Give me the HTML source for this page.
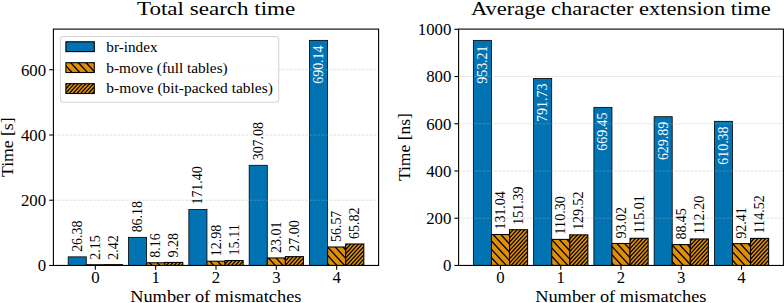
<!DOCTYPE html>
<html><head><meta charset="utf-8"><title>chart</title>
<style>
html,body{margin:0;padding:0;background:#fff;}
body{width:784px;height:303px;overflow:hidden;}
svg{display:block;}
text{font-family:"Liberation Serif",serif;}
</style></head><body>
<svg width="784" height="303" viewBox="0 0 784 303">
<rect width="784" height="303" fill="#fff"/>
<rect x="68.18" y="256.85" width="18.10" height="8.60" fill="#0173B2" stroke="#000" stroke-width="0.8"/>
<rect x="128.52" y="237.34" width="18.10" height="28.11" fill="#0173B2" stroke="#000" stroke-width="0.8"/>
<rect x="188.85" y="209.55" width="18.10" height="55.90" fill="#0173B2" stroke="#000" stroke-width="0.8"/>
<rect x="249.18" y="165.29" width="18.10" height="100.16" fill="#0173B2" stroke="#000" stroke-width="0.8"/>
<rect x="309.52" y="40.35" width="18.10" height="225.10" fill="#0173B2" stroke="#000" stroke-width="0.8"/>
<clipPath id="c1"><rect x="86.28" y="264.75" width="18.10" height="0.70"/></clipPath>
<rect x="86.28" y="264.75" width="18.10" height="0.70" fill="#DE8F05"/>
<path clip-path="url(#c1)" d="M88.94,263.75L91.44,266.45M96.64,263.75L99.14,266.45M104.34,263.75L106.84,266.45" stroke="#000" stroke-width="1.30" fill="none"/>
<rect x="86.28" y="264.75" width="18.10" height="0.70" fill="none" stroke="#000" stroke-width="1.05"/>
<clipPath id="c2"><rect x="146.62" y="262.79" width="18.10" height="2.66"/></clipPath>
<rect x="146.62" y="262.79" width="18.10" height="2.66" fill="#DE8F05"/>
<path clip-path="url(#c2)" d="M148.73,261.79L153.04,266.45M156.43,261.79L160.74,266.45M164.13,261.79L168.44,266.45" stroke="#000" stroke-width="1.30" fill="none"/>
<rect x="146.62" y="262.79" width="18.10" height="2.66" fill="none" stroke="#000" stroke-width="1.05"/>
<clipPath id="c3"><rect x="206.95" y="261.22" width="18.10" height="4.23"/></clipPath>
<rect x="206.95" y="261.22" width="18.10" height="4.23" fill="#DE8F05"/>
<path clip-path="url(#c3)" d="M201.18,260.22L206.94,266.45M208.88,260.22L214.64,266.45M216.58,260.22L222.34,266.45M224.28,260.22L230.04,266.45" stroke="#000" stroke-width="1.30" fill="none"/>
<rect x="206.95" y="261.22" width="18.10" height="4.23" fill="none" stroke="#000" stroke-width="1.05"/>
<clipPath id="c4"><rect x="267.28" y="257.95" width="18.10" height="7.50"/></clipPath>
<rect x="267.28" y="257.95" width="18.10" height="7.50" fill="#DE8F05"/>
<path clip-path="url(#c4)" d="M259.76,256.95L268.54,266.45M267.46,256.95L276.24,266.45M275.16,256.95L283.94,266.45M282.86,256.95L291.64,266.45" stroke="#000" stroke-width="1.30" fill="none"/>
<rect x="267.28" y="257.95" width="18.10" height="7.50" fill="none" stroke="#000" stroke-width="1.05"/>
<clipPath id="c5"><rect x="327.62" y="247.00" width="18.10" height="18.45"/></clipPath>
<rect x="327.62" y="247.00" width="18.10" height="18.45" fill="#DE8F05"/>
<path clip-path="url(#c5)" d="M311.24,246.00L330.14,266.45M318.94,246.00L337.84,266.45M326.64,246.00L345.54,266.45M334.34,246.00L353.24,266.45M342.04,246.00L360.94,266.45" stroke="#000" stroke-width="1.30" fill="none"/>
<rect x="327.62" y="247.00" width="18.10" height="18.45" fill="none" stroke="#000" stroke-width="1.05"/>
<clipPath id="c6"><rect x="104.38" y="264.66" width="18.10" height="0.79"/></clipPath>
<rect x="104.38" y="264.66" width="18.10" height="0.79" fill="#DE8F05"/>
<path clip-path="url(#c6)" d="M106.75,263.66L104.19,266.45M110.58,263.66L108.02,266.45M114.41,263.66L111.85,266.45M118.24,263.66L115.68,266.45M122.07,263.66L119.51,266.45M125.90,263.66L123.34,266.45" stroke="#000" stroke-width="1.25" fill="none"/>
<rect x="104.38" y="264.66" width="18.10" height="0.79" fill="none" stroke="#000" stroke-width="1.05"/>
<clipPath id="c7"><rect x="164.72" y="262.42" width="18.10" height="3.03"/></clipPath>
<rect x="164.72" y="262.42" width="18.10" height="3.03" fill="#DE8F05"/>
<path clip-path="url(#c7)" d="M166.26,261.42L161.64,266.45M170.09,261.42L165.47,266.45M173.92,261.42L169.30,266.45M177.75,261.42L173.13,266.45M181.58,261.42L176.96,266.45M185.41,261.42L180.79,266.45" stroke="#000" stroke-width="1.25" fill="none"/>
<rect x="164.72" y="262.42" width="18.10" height="3.03" fill="none" stroke="#000" stroke-width="1.05"/>
<clipPath id="c8"><rect x="225.05" y="260.52" width="18.10" height="4.93"/></clipPath>
<rect x="225.05" y="260.52" width="18.10" height="4.93" fill="#DE8F05"/>
<path clip-path="url(#c8)" d="M225.45,259.52L219.09,266.45M229.28,259.52L222.92,266.45M233.11,259.52L226.75,266.45M236.94,259.52L230.58,266.45M240.77,259.52L234.41,266.45M244.60,259.52L238.24,266.45M248.43,259.52L242.07,266.45" stroke="#000" stroke-width="1.25" fill="none"/>
<rect x="225.05" y="260.52" width="18.10" height="4.93" fill="none" stroke="#000" stroke-width="1.05"/>
<clipPath id="c9"><rect x="285.38" y="256.64" width="18.10" height="8.81"/></clipPath>
<rect x="285.38" y="256.64" width="18.10" height="8.81" fill="#DE8F05"/>
<path clip-path="url(#c9)" d="M286.47,255.64L276.54,266.45M290.30,255.64L280.37,266.45M294.13,255.64L284.20,266.45M297.96,255.64L288.03,266.45M301.79,255.64L291.86,266.45M305.62,255.64L295.69,266.45M309.45,255.64L299.52,266.45M313.28,255.64L303.35,266.45" stroke="#000" stroke-width="1.25" fill="none"/>
<rect x="285.38" y="256.64" width="18.10" height="8.81" fill="none" stroke="#000" stroke-width="1.05"/>
<clipPath id="c10"><rect x="345.72" y="243.98" width="18.10" height="21.47"/></clipPath>
<rect x="345.72" y="243.98" width="18.10" height="21.47" fill="#DE8F05"/>
<path clip-path="url(#c10)" d="M347.90,242.98L326.33,266.45M351.73,242.98L330.16,266.45M355.56,242.98L333.99,266.45M359.39,242.98L337.82,266.45M363.22,242.98L341.65,266.45M367.05,242.98L345.48,266.45M370.88,242.98L349.31,266.45M374.71,242.98L353.14,266.45M378.54,242.98L356.97,266.45M382.37,242.98L360.80,266.45M386.20,242.98L364.63,266.45" stroke="#000" stroke-width="1.25" fill="none"/>
<rect x="345.72" y="243.98" width="18.10" height="21.47" fill="none" stroke="#000" stroke-width="1.05"/>
<line x1="53.40" x2="378.60" y1="200.22" y2="200.22" stroke="#b0b0b0" stroke-opacity="0.38" stroke-width="1.0" stroke-dasharray="2.8,1.2"/>
<line x1="53.40" x2="378.60" y1="134.99" y2="134.99" stroke="#b0b0b0" stroke-opacity="0.38" stroke-width="1.0" stroke-dasharray="2.8,1.2"/>
<line x1="53.40" x2="378.60" y1="69.75" y2="69.75" stroke="#b0b0b0" stroke-opacity="0.38" stroke-width="1.0" stroke-dasharray="2.8,1.2"/>
<text transform="translate(81.73,251.85) rotate(-90)" font-size="14.50" fill="#000" textLength="31.32" lengthAdjust="spacingAndGlyphs">26.38</text>
<text transform="translate(142.07,232.34) rotate(-90)" font-size="14.50" fill="#000" textLength="31.32" lengthAdjust="spacingAndGlyphs">86.18</text>
<text transform="translate(202.40,204.55) rotate(-90)" font-size="14.50" fill="#000" textLength="38.20" lengthAdjust="spacingAndGlyphs">171.40</text>
<text transform="translate(262.73,160.29) rotate(-90)" font-size="14.50" fill="#000" textLength="38.20" lengthAdjust="spacingAndGlyphs">307.08</text>
<text transform="translate(323.07,45.55) rotate(-90)" font-size="14.50" fill="#fff" text-anchor="end" textLength="38.20" lengthAdjust="spacingAndGlyphs">690.14</text>
<text transform="translate(99.83,259.75) rotate(-90)" font-size="14.50" fill="#000" textLength="24.45" lengthAdjust="spacingAndGlyphs">2.15</text>
<text transform="translate(160.17,257.79) rotate(-90)" font-size="14.50" fill="#000" textLength="24.45" lengthAdjust="spacingAndGlyphs">8.16</text>
<text transform="translate(220.50,256.22) rotate(-90)" font-size="14.50" fill="#000" textLength="31.32" lengthAdjust="spacingAndGlyphs">12.98</text>
<text transform="translate(280.83,252.95) rotate(-90)" font-size="14.50" fill="#000" textLength="31.32" lengthAdjust="spacingAndGlyphs">23.01</text>
<text transform="translate(341.17,242.00) rotate(-90)" font-size="14.50" fill="#000" textLength="31.32" lengthAdjust="spacingAndGlyphs">56.57</text>
<text transform="translate(117.93,259.66) rotate(-90)" font-size="14.50" fill="#000" textLength="24.45" lengthAdjust="spacingAndGlyphs">2.42</text>
<text transform="translate(178.27,257.42) rotate(-90)" font-size="14.50" fill="#000" textLength="24.45" lengthAdjust="spacingAndGlyphs">9.28</text>
<text transform="translate(238.60,255.52) rotate(-90)" font-size="14.50" fill="#000" textLength="31.32" lengthAdjust="spacingAndGlyphs">15.11</text>
<text transform="translate(298.93,251.64) rotate(-90)" font-size="14.50" fill="#000" textLength="31.32" lengthAdjust="spacingAndGlyphs">27.00</text>
<text transform="translate(359.27,238.98) rotate(-90)" font-size="14.50" fill="#000" textLength="31.32" lengthAdjust="spacingAndGlyphs">65.82</text>
<rect x="53.40" y="29.10" width="325.20" height="236.35" fill="none" stroke="#000" stroke-width="1.1"/>
<line x1="49.20" x2="53.40" y1="265.45" y2="265.45" stroke="#000" stroke-width="1.1"/>
<text x="46.10" y="271.25" font-size="16.80" fill="#000" text-anchor="end">0</text>
<line x1="49.20" x2="53.40" y1="200.22" y2="200.22" stroke="#000" stroke-width="1.1"/>
<text x="46.10" y="206.02" font-size="16.80" fill="#000" text-anchor="end">200</text>
<line x1="49.20" x2="53.40" y1="134.99" y2="134.99" stroke="#000" stroke-width="1.1"/>
<text x="46.10" y="140.79" font-size="16.80" fill="#000" text-anchor="end">400</text>
<line x1="49.20" x2="53.40" y1="69.75" y2="69.75" stroke="#000" stroke-width="1.1"/>
<text x="46.10" y="75.55" font-size="16.80" fill="#000" text-anchor="end">600</text>
<line x1="95.33" x2="95.33" y1="265.45" y2="269.65" stroke="#000" stroke-width="1.1"/>
<text x="95.33" y="282.80" font-size="16.80" fill="#000" text-anchor="middle">0</text>
<line x1="155.67" x2="155.67" y1="265.45" y2="269.65" stroke="#000" stroke-width="1.1"/>
<text x="155.67" y="282.80" font-size="16.80" fill="#000" text-anchor="middle">1</text>
<line x1="216.00" x2="216.00" y1="265.45" y2="269.65" stroke="#000" stroke-width="1.1"/>
<text x="216.00" y="282.80" font-size="16.80" fill="#000" text-anchor="middle">2</text>
<line x1="276.33" x2="276.33" y1="265.45" y2="269.65" stroke="#000" stroke-width="1.1"/>
<text x="276.33" y="282.80" font-size="16.80" fill="#000" text-anchor="middle">3</text>
<line x1="336.67" x2="336.67" y1="265.45" y2="269.65" stroke="#000" stroke-width="1.1"/>
<text x="336.67" y="282.80" font-size="16.80" fill="#000" text-anchor="middle">4</text>
<text x="137.00" y="14.80" font-size="19.60" fill="#000" textLength="158.20" lengthAdjust="spacingAndGlyphs">Total search time</text>
<text x="130.20" y="302.00" font-size="16.80" fill="#000" textLength="171.30" lengthAdjust="spacingAndGlyphs">Number of mismatches</text>
<text transform="translate(12.60,177.00) rotate(-90)" font-size="16.80" fill="#000" textLength="59.60" lengthAdjust="spacingAndGlyphs">Time [s]</text>
<rect x="473.36" y="40.35" width="18.08" height="225.10" fill="#0173B2" stroke="#000" stroke-width="0.8"/>
<rect x="533.62" y="78.49" width="18.08" height="186.96" fill="#0173B2" stroke="#000" stroke-width="0.8"/>
<rect x="593.88" y="107.36" width="18.08" height="158.09" fill="#0173B2" stroke="#000" stroke-width="0.8"/>
<rect x="654.14" y="116.70" width="18.08" height="148.75" fill="#0173B2" stroke="#000" stroke-width="0.8"/>
<rect x="714.40" y="121.31" width="18.08" height="144.14" fill="#0173B2" stroke="#000" stroke-width="0.8"/>
<clipPath id="c11"><rect x="491.44" y="234.51" width="18.08" height="30.94"/></clipPath>
<rect x="491.44" y="234.51" width="18.08" height="30.94" fill="#DE8F05"/>
<path clip-path="url(#c11)" d="M461.40,233.51L491.84,266.45M469.10,233.51L499.54,266.45M476.80,233.51L507.24,266.45M484.50,233.51L514.94,266.45M492.20,233.51L522.64,266.45M499.90,233.51L530.34,266.45M507.60,233.51L538.04,266.45" stroke="#000" stroke-width="1.30" fill="none"/>
<rect x="491.44" y="234.51" width="18.08" height="30.94" fill="none" stroke="#000" stroke-width="1.05"/>
<clipPath id="c12"><rect x="551.70" y="239.40" width="18.08" height="26.05"/></clipPath>
<rect x="551.70" y="239.40" width="18.08" height="26.05" fill="#DE8F05"/>
<path clip-path="url(#c12)" d="M527.52,238.40L553.44,266.45M535.22,238.40L561.14,266.45M542.92,238.40L568.84,266.45M550.62,238.40L576.54,266.45M558.32,238.40L584.24,266.45M566.02,238.40L591.94,266.45" stroke="#000" stroke-width="1.30" fill="none"/>
<rect x="551.70" y="239.40" width="18.08" height="26.05" fill="none" stroke="#000" stroke-width="1.05"/>
<clipPath id="c13"><rect x="611.96" y="243.48" width="18.08" height="21.97"/></clipPath>
<rect x="611.96" y="243.48" width="18.08" height="21.97" fill="#DE8F05"/>
<path clip-path="url(#c13)" d="M592.89,242.48L615.04,266.45M600.59,242.48L622.74,266.45M608.29,242.48L630.44,266.45M615.99,242.48L638.14,266.45M623.69,242.48L645.84,266.45" stroke="#000" stroke-width="1.30" fill="none"/>
<rect x="611.96" y="243.48" width="18.08" height="21.97" fill="none" stroke="#000" stroke-width="1.05"/>
<clipPath id="c14"><rect x="672.22" y="244.56" width="18.08" height="20.89"/></clipPath>
<rect x="672.22" y="244.56" width="18.08" height="20.89" fill="#DE8F05"/>
<path clip-path="url(#c14)" d="M655.49,243.56L676.64,266.45M663.19,243.56L684.34,266.45M670.89,243.56L692.04,266.45M678.59,243.56L699.74,266.45M686.29,243.56L707.44,266.45" stroke="#000" stroke-width="1.30" fill="none"/>
<rect x="672.22" y="244.56" width="18.08" height="20.89" fill="none" stroke="#000" stroke-width="1.05"/>
<clipPath id="c15"><rect x="732.48" y="243.63" width="18.08" height="21.82"/></clipPath>
<rect x="732.48" y="243.63" width="18.08" height="21.82" fill="#DE8F05"/>
<path clip-path="url(#c15)" d="M716.23,242.63L738.24,266.45M723.93,242.63L745.94,266.45M731.63,242.63L753.64,266.45M739.33,242.63L761.34,266.45M747.03,242.63L769.04,266.45" stroke="#000" stroke-width="1.30" fill="none"/>
<rect x="732.48" y="243.63" width="18.08" height="21.82" fill="none" stroke="#000" stroke-width="1.05"/>
<clipPath id="c16"><rect x="509.52" y="229.70" width="18.08" height="35.75"/></clipPath>
<rect x="509.52" y="229.70" width="18.08" height="35.75" fill="#DE8F05"/>
<path clip-path="url(#c16)" d="M510.40,228.70L475.70,266.45M514.23,228.70L479.53,266.45M518.06,228.70L483.36,266.45M521.89,228.70L487.19,266.45M525.72,228.70L491.02,266.45M529.55,228.70L494.85,266.45M533.38,228.70L498.68,266.45M537.21,228.70L502.51,266.45M541.04,228.70L506.34,266.45M544.87,228.70L510.17,266.45M548.70,228.70L514.00,266.45M552.53,228.70L517.83,266.45M556.36,228.70L521.66,266.45M560.19,228.70L525.49,266.45" stroke="#000" stroke-width="1.25" fill="none"/>
<rect x="509.52" y="229.70" width="18.08" height="35.75" fill="none" stroke="#000" stroke-width="1.05"/>
<clipPath id="c17"><rect x="569.78" y="234.86" width="18.08" height="30.59"/></clipPath>
<rect x="569.78" y="234.86" width="18.08" height="30.59" fill="#DE8F05"/>
<path clip-path="url(#c17)" d="M570.76,233.86L540.81,266.45M574.59,233.86L544.64,266.45M578.42,233.86L548.47,266.45M582.25,233.86L552.30,266.45M586.08,233.86L556.13,266.45M589.91,233.86L559.96,266.45M593.74,233.86L563.79,266.45M597.57,233.86L567.62,266.45M601.40,233.86L571.45,266.45M605.23,233.86L575.28,266.45M609.06,233.86L579.11,266.45M612.89,233.86L582.94,266.45M616.72,233.86L586.77,266.45" stroke="#000" stroke-width="1.25" fill="none"/>
<rect x="569.78" y="234.86" width="18.08" height="30.59" fill="none" stroke="#000" stroke-width="1.05"/>
<clipPath id="c18"><rect x="630.04" y="238.29" width="18.08" height="27.16"/></clipPath>
<rect x="630.04" y="238.29" width="18.08" height="27.16" fill="#DE8F05"/>
<path clip-path="url(#c18)" d="M632.72,237.29L605.92,266.45M636.55,237.29L609.75,266.45M640.38,237.29L613.58,266.45M644.21,237.29L617.41,266.45M648.04,237.29L621.24,266.45M651.87,237.29L625.07,266.45M655.70,237.29L628.90,266.45M659.53,237.29L632.73,266.45M663.36,237.29L636.56,266.45M667.19,237.29L640.39,266.45M671.02,237.29L644.22,266.45M674.85,237.29L648.05,266.45" stroke="#000" stroke-width="1.25" fill="none"/>
<rect x="630.04" y="238.29" width="18.08" height="27.16" fill="none" stroke="#000" stroke-width="1.05"/>
<clipPath id="c19"><rect x="690.30" y="238.95" width="18.08" height="26.50"/></clipPath>
<rect x="690.30" y="238.95" width="18.08" height="26.50" fill="#DE8F05"/>
<path clip-path="url(#c19)" d="M689.56,237.95L663.37,266.45M693.39,237.95L667.20,266.45M697.22,237.95L671.03,266.45M701.05,237.95L674.86,266.45M704.88,237.95L678.69,266.45M708.71,237.95L682.52,266.45M712.54,237.95L686.35,266.45M716.37,237.95L690.18,266.45M720.20,237.95L694.01,266.45M724.03,237.95L697.84,266.45M727.86,237.95L701.67,266.45M731.69,237.95L705.50,266.45M735.52,237.95L709.33,266.45" stroke="#000" stroke-width="1.25" fill="none"/>
<rect x="690.30" y="238.95" width="18.08" height="26.50" fill="none" stroke="#000" stroke-width="1.05"/>
<clipPath id="c20"><rect x="750.56" y="238.41" width="18.08" height="27.04"/></clipPath>
<rect x="750.56" y="238.41" width="18.08" height="27.04" fill="#DE8F05"/>
<path clip-path="url(#c20)" d="M751.34,237.41L724.65,266.45M755.17,237.41L728.48,266.45M759.00,237.41L732.31,266.45M762.83,237.41L736.14,266.45M766.66,237.41L739.97,266.45M770.49,237.41L743.80,266.45M774.32,237.41L747.63,266.45M778.15,237.41L751.46,266.45M781.98,237.41L755.29,266.45M785.81,237.41L759.12,266.45M789.64,237.41L762.95,266.45M793.47,237.41L766.78,266.45" stroke="#000" stroke-width="1.25" fill="none"/>
<rect x="750.56" y="238.41" width="18.08" height="27.04" fill="none" stroke="#000" stroke-width="1.05"/>
<line x1="458.60" x2="783.40" y1="218.22" y2="218.22" stroke="#b0b0b0" stroke-opacity="0.38" stroke-width="1.0" stroke-dasharray="2.8,1.2"/>
<line x1="458.60" x2="783.40" y1="170.99" y2="170.99" stroke="#b0b0b0" stroke-opacity="0.38" stroke-width="1.0" stroke-dasharray="2.8,1.2"/>
<line x1="458.60" x2="783.40" y1="123.76" y2="123.76" stroke="#b0b0b0" stroke-opacity="0.38" stroke-width="1.0" stroke-dasharray="2.8,1.2"/>
<line x1="458.60" x2="783.40" y1="76.53" y2="76.53" stroke="#b0b0b0" stroke-opacity="0.38" stroke-width="1.0" stroke-dasharray="2.8,1.2"/>
<text transform="translate(486.90,45.55) rotate(-90)" font-size="14.50" fill="#fff" text-anchor="end" textLength="38.20" lengthAdjust="spacingAndGlyphs">953.21</text>
<text transform="translate(547.16,83.69) rotate(-90)" font-size="14.50" fill="#fff" text-anchor="end" textLength="38.20" lengthAdjust="spacingAndGlyphs">791.73</text>
<text transform="translate(607.42,112.56) rotate(-90)" font-size="14.50" fill="#fff" text-anchor="end" textLength="38.20" lengthAdjust="spacingAndGlyphs">669.45</text>
<text transform="translate(667.68,121.90) rotate(-90)" font-size="14.50" fill="#fff" text-anchor="end" textLength="38.20" lengthAdjust="spacingAndGlyphs">629.89</text>
<text transform="translate(727.94,126.51) rotate(-90)" font-size="14.50" fill="#fff" text-anchor="end" textLength="38.20" lengthAdjust="spacingAndGlyphs">610.38</text>
<text transform="translate(504.98,229.51) rotate(-90)" font-size="14.50" fill="#000" textLength="38.20" lengthAdjust="spacingAndGlyphs">131.04</text>
<text transform="translate(565.24,234.40) rotate(-90)" font-size="14.50" fill="#000" textLength="38.20" lengthAdjust="spacingAndGlyphs">110.30</text>
<text transform="translate(625.50,238.48) rotate(-90)" font-size="14.50" fill="#000" textLength="31.32" lengthAdjust="spacingAndGlyphs">93.02</text>
<text transform="translate(685.76,239.56) rotate(-90)" font-size="14.50" fill="#000" textLength="31.32" lengthAdjust="spacingAndGlyphs">88.45</text>
<text transform="translate(746.02,238.63) rotate(-90)" font-size="14.50" fill="#000" textLength="31.32" lengthAdjust="spacingAndGlyphs">92.41</text>
<text transform="translate(523.06,224.70) rotate(-90)" font-size="14.50" fill="#000" textLength="38.20" lengthAdjust="spacingAndGlyphs">151.39</text>
<text transform="translate(583.32,229.86) rotate(-90)" font-size="14.50" fill="#000" textLength="38.20" lengthAdjust="spacingAndGlyphs">129.52</text>
<text transform="translate(643.58,233.29) rotate(-90)" font-size="14.50" fill="#000" textLength="38.20" lengthAdjust="spacingAndGlyphs">115.01</text>
<text transform="translate(703.84,233.95) rotate(-90)" font-size="14.50" fill="#000" textLength="38.20" lengthAdjust="spacingAndGlyphs">112.20</text>
<text transform="translate(764.10,233.41) rotate(-90)" font-size="14.50" fill="#000" textLength="38.20" lengthAdjust="spacingAndGlyphs">114.52</text>
<rect x="458.60" y="29.10" width="324.80" height="236.35" fill="none" stroke="#000" stroke-width="1.1"/>
<line x1="454.40" x2="458.60" y1="265.45" y2="265.45" stroke="#000" stroke-width="1.1"/>
<text x="451.30" y="271.25" font-size="16.80" fill="#000" text-anchor="end">0</text>
<line x1="454.40" x2="458.60" y1="218.22" y2="218.22" stroke="#000" stroke-width="1.1"/>
<text x="451.30" y="224.02" font-size="16.80" fill="#000" text-anchor="end">200</text>
<line x1="454.40" x2="458.60" y1="170.99" y2="170.99" stroke="#000" stroke-width="1.1"/>
<text x="451.30" y="176.79" font-size="16.80" fill="#000" text-anchor="end">400</text>
<line x1="454.40" x2="458.60" y1="123.76" y2="123.76" stroke="#000" stroke-width="1.1"/>
<text x="451.30" y="129.56" font-size="16.80" fill="#000" text-anchor="end">600</text>
<line x1="454.40" x2="458.60" y1="76.53" y2="76.53" stroke="#000" stroke-width="1.1"/>
<text x="451.30" y="82.33" font-size="16.80" fill="#000" text-anchor="end">800</text>
<line x1="454.40" x2="458.60" y1="29.31" y2="29.31" stroke="#000" stroke-width="1.1"/>
<text x="451.30" y="35.11" font-size="16.80" fill="#000" text-anchor="end">1000</text>
<line x1="500.48" x2="500.48" y1="265.45" y2="269.65" stroke="#000" stroke-width="1.1"/>
<text x="500.48" y="282.80" font-size="16.80" fill="#000" text-anchor="middle">0</text>
<line x1="560.74" x2="560.74" y1="265.45" y2="269.65" stroke="#000" stroke-width="1.1"/>
<text x="560.74" y="282.80" font-size="16.80" fill="#000" text-anchor="middle">1</text>
<line x1="621.00" x2="621.00" y1="265.45" y2="269.65" stroke="#000" stroke-width="1.1"/>
<text x="621.00" y="282.80" font-size="16.80" fill="#000" text-anchor="middle">2</text>
<line x1="681.26" x2="681.26" y1="265.45" y2="269.65" stroke="#000" stroke-width="1.1"/>
<text x="681.26" y="282.80" font-size="16.80" fill="#000" text-anchor="middle">3</text>
<line x1="741.52" x2="741.52" y1="265.45" y2="269.65" stroke="#000" stroke-width="1.1"/>
<text x="741.52" y="282.80" font-size="16.80" fill="#000" text-anchor="middle">4</text>
<text x="471.00" y="14.80" font-size="19.60" fill="#000" textLength="299.70" lengthAdjust="spacingAndGlyphs">Average character extension time</text>
<text x="535.20" y="302.00" font-size="16.80" fill="#000" textLength="171.30" lengthAdjust="spacingAndGlyphs">Number of mismatches</text>
<text transform="translate(409.60,181.10) rotate(-90)" font-size="16.80" fill="#000" textLength="68.00" lengthAdjust="spacingAndGlyphs">Time [ns]</text>
<rect x="60.5" y="36.5" width="218.2" height="65.8" rx="2.8" fill="#fff" fill-opacity="0.8" stroke="#ccc" stroke-opacity="0.8" stroke-width="1.1"/>
<rect x="65.9" y="41.80" width="28.4" height="9.8" fill="#0173B2" stroke="#000" stroke-width="1.1"/>
<text x="106.30" y="51.80" font-size="13.90" fill="#000" textLength="51.20" lengthAdjust="spacingAndGlyphs">br-index</text>
<clipPath id="c21"><rect x="65.90" y="62.70" width="28.40" height="9.80"/></clipPath>
<rect x="65.90" y="62.70" width="28.40" height="9.80" fill="#DE8F05"/>
<path clip-path="url(#c21)" d="M54.40,61.70L65.30,73.50M62.10,61.70L73.00,73.50M69.80,61.70L80.70,73.50M77.50,61.70L88.40,73.50M85.20,61.70L96.10,73.50M92.90,61.70L103.80,73.50" stroke="#000" stroke-width="1.30" fill="none"/>
<rect x="65.90" y="62.70" width="28.40" height="9.80" fill="none" stroke="#000" stroke-width="1.1"/>
<text x="106.30" y="72.70" font-size="13.90" fill="#000" textLength="121.40" lengthAdjust="spacingAndGlyphs">b-move (full tables)</text>
<clipPath id="c22"><rect x="65.90" y="83.70" width="28.40" height="9.80"/></clipPath>
<rect x="65.90" y="83.70" width="28.40" height="9.80" fill="#DE8F05"/>
<path clip-path="url(#c22)" d="M67.61,82.70L56.76,94.50M71.44,82.70L60.59,94.50M75.27,82.70L64.42,94.50M79.10,82.70L68.25,94.50M82.93,82.70L72.08,94.50M86.76,82.70L75.91,94.50M90.59,82.70L79.74,94.50M94.42,82.70L83.57,94.50M98.25,82.70L87.40,94.50M102.08,82.70L91.23,94.50M105.91,82.70L95.06,94.50" stroke="#000" stroke-width="1.25" fill="none"/>
<rect x="65.90" y="83.70" width="28.40" height="9.80" fill="none" stroke="#000" stroke-width="1.1"/>
<text x="106.30" y="93.20" font-size="13.90" fill="#000" textLength="166.60" lengthAdjust="spacingAndGlyphs">b-move (bit-packed tables)</text>
</svg>
</body></html>
